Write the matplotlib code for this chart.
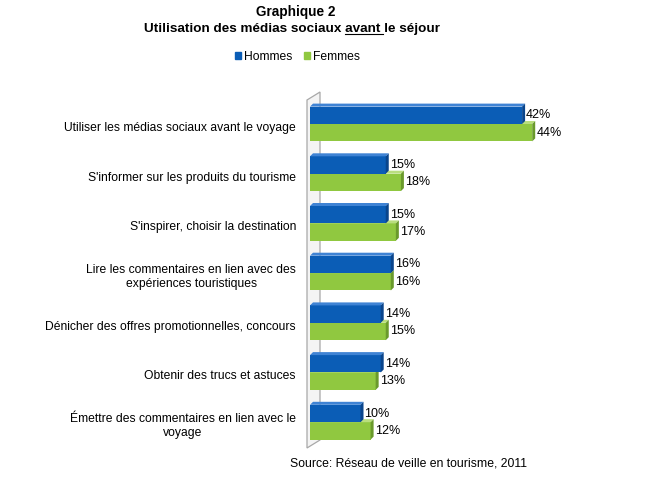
import numpy as np
import matplotlib.pyplot as plt
from matplotlib.patches import Polygon, Patch
from matplotlib.lines import Line2D

plt.rcParams['font.family'] = ['Liberation Sans', 'DejaVu Sans']

# data
categories = [
    "Utiliser les médias sociaux avant le voyage",
    "S'informer sur les produits du tourisme",
    "S'inspirer, choisir la destination",
    "Lire les commentaires en lien avec des\nexpériences touristiques",
    "Dénicher des offres promotionnelles, concours",
    "Obtenir des trucs et astuces",
    "Émettre des commentaires en lien avec le\nvoyage",
]
hommes = [42, 15, 15, 16, 14, 14, 10]
femmes = [44, 18, 17, 16, 15, 13, 12]
series_names = ["Hommes", "Femmes"]

# colours: front, top, side
blue = ("#0b5db6", "#3f83d4", "#0a458c")
green = ("#90c840", "#b9de7e", "#6a9a2c")

W, H = 664, 478
fig = plt.figure(figsize=(W / 100, H / 100), dpi=100)

# axes placed in pixel terms: x0 = 310 px, 5.05 px per %
x0_px, top_px, bot_px = 310, 90, 450
px_per = 5.05
xmax = (640 - x0_px) / px_per
ax = fig.add_axes([x0_px / W, 1 - bot_px / H, (640 - x0_px) / W, (bot_px - top_px) / H])
gap = 49.7
ax.set_xlim(0, xmax)
ax.set_ylim((bot_px - 124) / gap, (top_px - 124) / gap)
ax.axis("off")

dx = 3 / px_per
dy = 3 / gap
bh = 0.35

# wall on the left
wx = lambda p: (p - x0_px) / px_per
wy = lambda p: (p - 124) / gap
wall = Polygon([(wx(307), wy(100)), (wx(307), wy(448)), (wx(320), wy(440)), (wx(320), wy(92))],
               closed=True, facecolor="#f4f4f4", edgecolor="#a8a8a8", lw=0.9, clip_on=False, zorder=1)
ax.add_patch(wall)


def bar3d(y0, v, cols):
    front, topc, side = cols
    ax.barh(y0 + bh / 2, v, height=bh, left=0, color=front, edgecolor="none", zorder=3)
    ax.add_patch(Polygon([(0, y0), (v, y0), (v + dx, y0 - dy), (dx, y0 - dy)],
                         facecolor=topc, edgecolor="none", zorder=3))
    ax.add_patch(Polygon([(v, y0), (v + dx, y0 - dy), (v + dx, y0 + bh - dy), (v, y0 + bh)],
                         facecolor=side, edgecolor="none", zorder=3))


for i in range(len(categories)):
    bar3d(i, femmes[i], green)
    bar3d(i - bh, hommes[i], blue)
    ax.text(hommes[i] + 0.8, i - bh / 2, f"{hommes[i]}%", fontsize=9, va="center", ha="left", zorder=5)
    ax.text(femmes[i] + 0.8, i + bh / 2, f"{femmes[i]}%", fontsize=9, va="center", ha="left", zorder=5)
    ax.text(wx(296), i + 0.08, categories[i], fontsize=8.7, ha="right", va="center",
            multialignment="center", linespacing=1.2)

# legend
handles = [Patch(color=blue[0]), Patch(color=green[0])]
fig.legend(handles, series_names, loc="center", bbox_to_anchor=(0.448, 1 - 57 / H), ncol=2,
           frameon=False, fontsize=8.7, handlelength=0.5, handleheight=0.5,
           handletextpad=0.2, columnspacing=1.0)

# titles
fig.text(0.445, 1 - 12 / H, "Graphique 2", fontsize=9.8, fontweight="bold", ha="center", va="center")
title = "Utilisation des médias sociaux avant le séjour"
t = fig.text(0.44, 1 - 29 / H, title, fontsize=9.7, fontweight="bold", ha="center", va="center")
fig.canvas.draw()
r = fig.canvas.get_renderer()
bb = t.get_window_extent(r)
pre = fig.text(0, 0, "Utilisation des médias sociaux ", fontsize=9.7, fontweight="bold")
word = fig.text(0, 0, "avant", fontsize=9.7, fontweight="bold")
w_pre = pre.get_window_extent(r).width
w_word = word.get_window_extent(r).width
pre.remove()
word.remove()
ux0 = (bb.x0 + w_pre) / W
ux1 = (bb.x0 + w_pre + w_word + 2) / W
uy = (bb.y0 + 1) / H
fig.add_artist(Line2D([ux0, ux1], [uy, uy], color="black", lw=0.8))

fig.text(290 / W, 1 - 463 / H, "Source: Réseau de veille en tourisme, 2011", fontsize=8.8,
         ha="left", va="center")

fig.savefig("out.png", dpi=100, facecolor="white")
